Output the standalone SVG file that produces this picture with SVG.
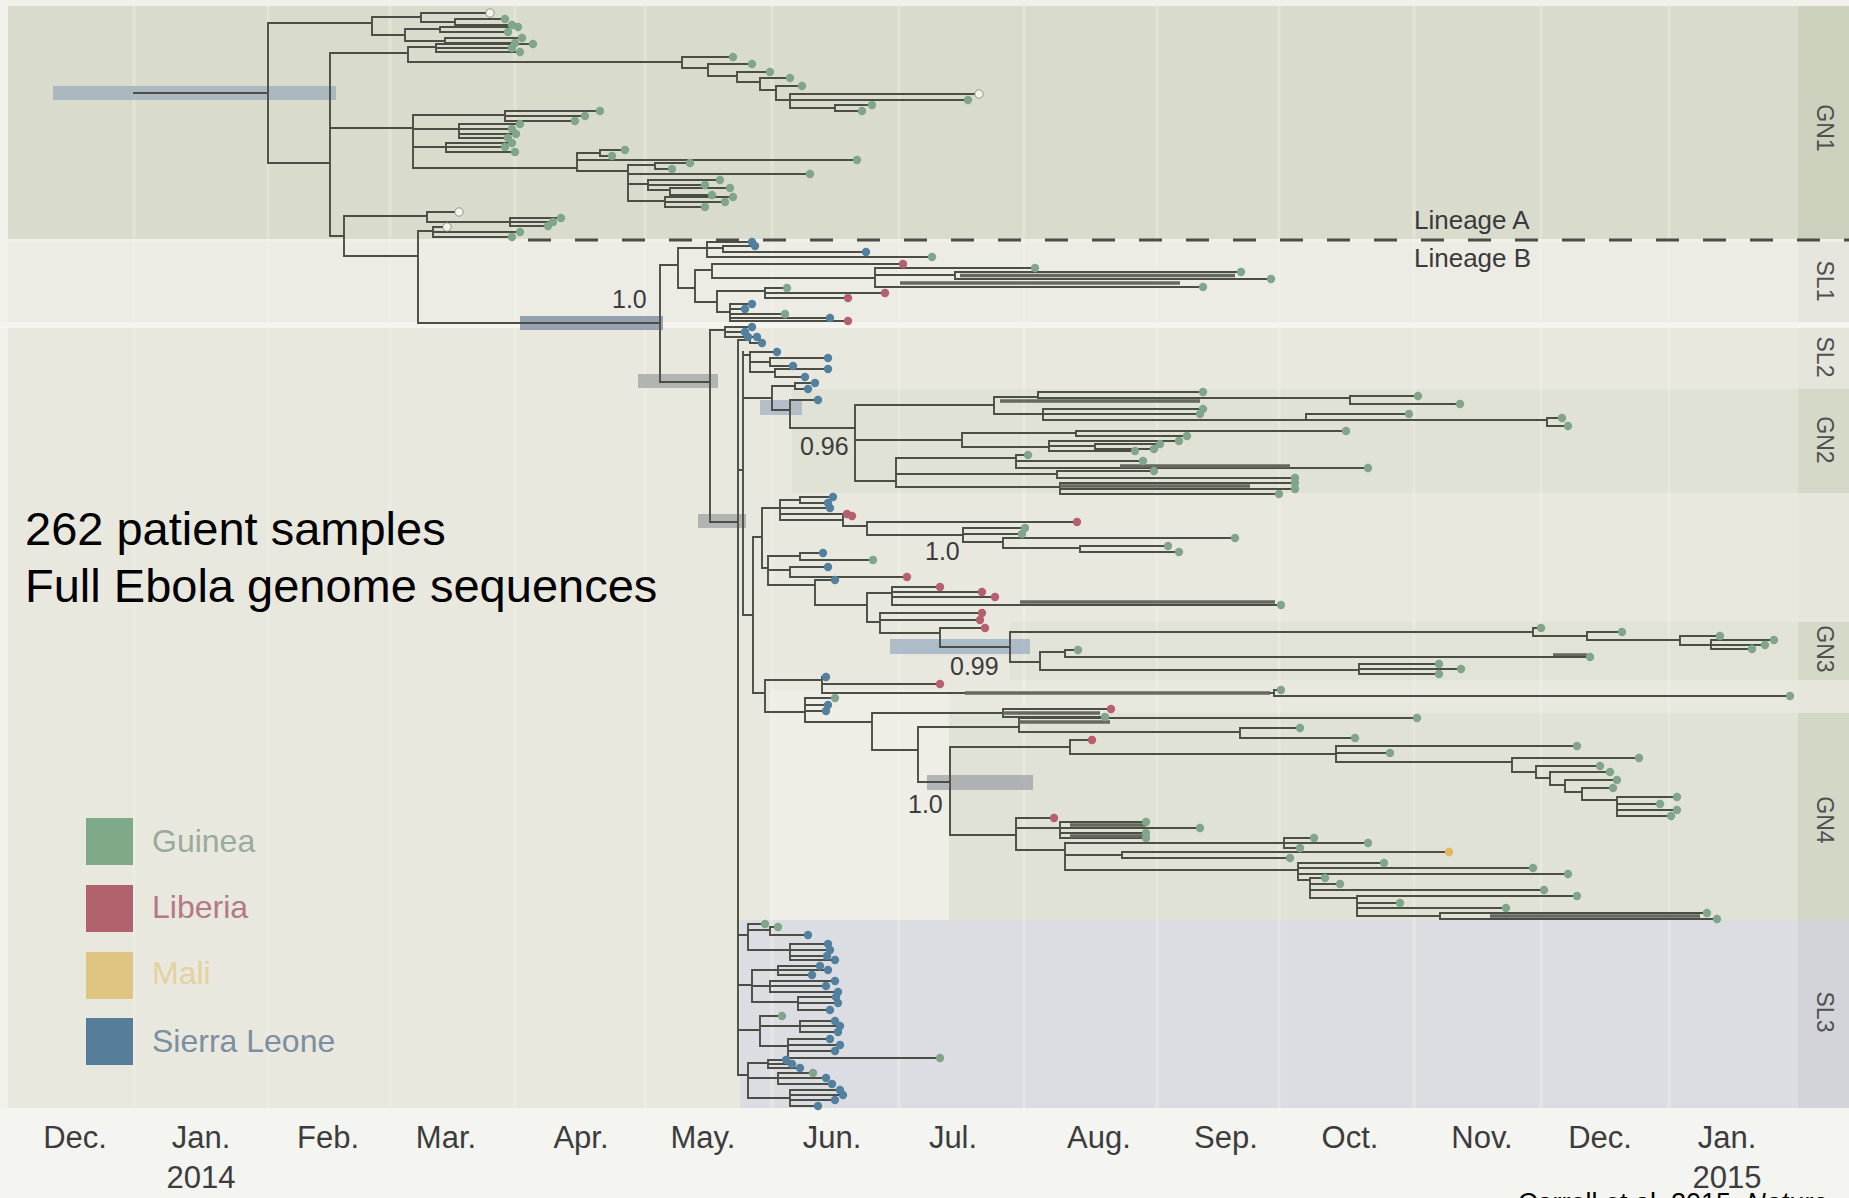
<svg xmlns="http://www.w3.org/2000/svg" width="1849" height="1198" viewBox="0 0 1849 1198">
<style>
.br{fill:none;stroke:#4b4e44;stroke-width:1.9;stroke-linecap:square}
.thk{fill:none;stroke:#666a5e;stroke-width:3.5}
circle{r:4.2px}
.g{fill:#80a58a}.l{fill:#b5606c}.s{fill:#52809f}.m{fill:#e2b85c}.w{fill:#f3f3ec;stroke:#7d7f74;stroke-width:.8}
.grid{stroke:#f6f5f0;stroke-width:3;opacity:.35}
.ax{font-family:"Liberation Sans",Arial,sans-serif;font-size:31px;fill:#3c3c3c;text-anchor:middle}
.cl{font-family:"Liberation Sans",Arial,sans-serif;font-size:23px;fill:#505050;text-anchor:middle;dominant-baseline:central}
.sup{font-family:"Liberation Sans",Arial,sans-serif;font-size:25px;fill:#3c3c3c}
.lg{font-family:"Liberation Sans",Arial,sans-serif;font-size:32px}
.big{font-family:"Liberation Sans",Arial,sans-serif;font-size:47px;fill:#000}
</style>
<g id="background">
<rect width="1849" height="1198" fill="#f1f0ea"/>
<rect x="8" y="6" width="1841" height="1102" fill="#e9e8df"/>
<rect x="8" y="6" width="1790" height="233" fill="#d9dccc"/>
<rect x="8" y="239" width="1841" height="3" fill="#f0efe8"/>
<rect x="8" y="242" width="1790" height="80" fill="#ecebe4"/>
<rect x="0" y="322" width="1849" height="6" fill="#f5f4ef"/>
<rect x="792" y="389" width="1006" height="104" fill="#dfe2d4"/>
<rect x="1010" y="622" width="788" height="58" fill="#e1e3d6"/>
<rect x="770" y="690" width="179" height="230" fill="#eeede6"/>
<rect x="949" y="713" width="849" height="207" fill="#dfe2d4"/>
<rect x="740" y="920" width="1058" height="188" fill="#dcdde2"/>
<rect x="1798" y="6" width="51" height="233" fill="#ccd1be"/>
<rect x="1798" y="242" width="51" height="80" fill="#e7e6de"/>
<rect x="1798" y="328" width="51" height="61" fill="#e5e5dc"/>
<rect x="1798" y="389" width="51" height="104" fill="#d5d9c8"/>
<rect x="1798" y="493" width="51" height="129" fill="#e6e6dd"/>
<rect x="1798" y="622" width="51" height="58" fill="#d5d9c8"/>
<rect x="1798" y="680" width="51" height="33" fill="#e6e6dd"/>
<rect x="1798" y="713" width="51" height="207" fill="#d3d7c5"/>
<rect x="1798" y="920" width="51" height="188" fill="#d2d4da"/>
<rect x="0" y="1108" width="1849" height="90" fill="#f4f4f1"/>
</g>
<g id="grid">
<path class="grid" d="M134 6V1108M268 6V1108M390 6V1108M515 6V1108M645 6V1108M772 6V1108M899 6V1108M1024 6V1108M1157 6V1108M1279 6V1108M1414 6V1108M1541 6V1108M1669 6V1108"/>
</g>
<g id="hpd-bars">
<rect x="53" y="86" width="283" height="14" fill="#a3b1bd" opacity=".85"/>
<rect x="520" y="316" width="143" height="14" fill="#8694a6" opacity=".85"/>
<rect x="638" y="374" width="80" height="14" fill="#a4a6a6" opacity=".8"/>
<rect x="698" y="514" width="48" height="14" fill="#a4a6a6" opacity=".8"/>
<rect x="760" y="400" width="42" height="15" fill="#a9b4c3" opacity=".8"/>
<rect x="890" y="639" width="140" height="15" fill="#9fafc3" opacity=".8"/>
<rect x="927" y="775" width="106" height="15" fill="#a3a6a9" opacity=".8"/>
</g>
<line x1="528" y1="240" x2="1849" y2="240" stroke="#4b4c45" stroke-width="3" stroke-dasharray="23 24"/>
<g id="connectors">
<path id="br-gn1" class="br" d="M134 93H268M268 23V163M268 23H372M372 17V35M372 17H421M421 13V22M421 13H490M421 22H455M455 19V25M455 19H505M455 25H512M372 35H405M405 29V41M405 29H440M440 27V32M440 27H518M440 32H508M405 41H445M445 38V43M445 38H522M445 43H515
M268 163H330M330 53V236M330 53H408M408 47V62M408 47H436M436 44V52M436 44H533M436 48H512M436 52H520M408 62H682M682 57V68M682 57H733M682 68H708M708 64V76M708 64H752M708 76H737M737 72V82M737 72H770M737 82H760M760 78V90M760 78H790M760 90H776M776 86V100M776 86H802M776 100H790M790 94V108M790 94H979M790 100H968M790 108H835M835 105V111M835 105H872M835 111H862
M330 128H413M413 115V168M413 115H505M505 111V121M505 111H600M505 116H585M505 121H575M413 129H459M459 124V138M459 124H520M459 129H512M459 134H516M459 138H508M413 147H446M446 143V152M446 143H512M446 147H505M446 152H515
M413 168H577M577 153V171M577 153H600M600 150V156M600 150H625M600 156H612M577 160H857M577 171H628M628 165V201M628 165H655M655 163V169M655 163H690M655 169H672M628 174H810M628 184H648M648 180V190M648 180H720M648 185H705M648 190H670M670 188V195M670 188H730M670 195H712M628 201H665M665 197V207M665 197H733M665 202H725M665 207H705
M330 236H344M344 216V256M344 216H427M427 212V222M427 212H459M427 222H510M510 218V226M510 218H561M510 222H553M510 226H548M344 256H418M418 231V323M418 231H433M433 227V237M433 227H447M433 232H520M433 237H512M418 323H660"/>
<path id="br-sl1" class="br" d="M660 265V382M660 265H678M678 248V288M678 248H707M707 242V257M707 242H752M707 248H723M723 246V252M723 246H755M723 252H866M707 257H932
M678 288H695M695 270V302M695 270H712M712 264V278M712 264H903M712 278H875M875 268V287M875 268H1035M875 275H955M955 272V279M955 272H1241M955 279H1271M875 287H1203
M695 302H717M717 291V312M717 291H765M765 288V298M765 288H787M765 293H885M765 298H848M717 312H730M730 304V321M730 304H752M730 309H745M730 314H785M730 318H830M730 321H848"/>
<path class="thk" d="M960 275.5H1235M900 283H1180"/>
<path id="br-sl2" class="br" d="M660 382H710M710 330V522M710 330H725M725 327V337M725 327H752M725 332H745M725 337H748M710 522H738M738 340V1075M738 340H750M750 337V343M750 337H757M750 343H762M738 470H743M743 352V615
M743 355H750M750 352V372M750 352H777M750 362H770M770 358V366M770 358H828M770 366H793M750 372H775M775 369V377M775 369H828M775 377H805M743 398H772M772 386V410M772 386H795M795 383V389M795 383H815M795 389H808M772 410H790M790 400V428M790 400H818M790 428H855"/>
<path id="br-gn2" class="br" d="M855 405V481M855 405H994M994 397V414M994 397H1038M1038 392V398M1038 392H1203M1038 398H1350M1350 396V404M1350 396H1418M1350 404H1460M994 414H1043M1043 409V420M1043 409H1203M1043 414H1200M1043 420H1306M1306 414V420M1306 414H1409M1306 420H1547M1547 418V426M1547 418H1562M1547 426H1568
M855 440H962M962 433V447M962 433H1076M1076 431V436M1076 431H1346M1076 436H1187M962 447H1049M1049 441V451M1049 441H1179M1049 446H1095M1095 444V449M1095 444H1160M1095 449H1154M1049 451H1135
M855 481H896M896 458V487M896 458H1016M1016 455V468M1016 455H1028M1016 461H1143M1016 468H1368M896 474H1057M1057 471V478M1057 471H1154M1057 478H1295M896 487H1060M1060 483V494M1060 483H1295M1060 489H1295M1060 494H1279"/>
<path class="thk" d="M1060 486H1250M1000 401H1200M1120 466H1290"/>
<path id="br-mid" class="br" d="M743 615H753M753 537V693M753 537H762M762 508V568M762 508H780M780 500V520M780 500H800M800 497V503M800 497H833M800 503H828M780 508H830M780 514H847M780 520H843M843 516V526M843 516H852M843 526H867M867 522V535M867 522H1077M867 535H963M963 528V542M963 528H1025M963 534H1022M963 542H1003M1003 538V548M1003 538H1235M1003 548H1080M1080 546V552M1080 546H1168M1080 552H1179
M762 568H768M768 556V585M768 556H800M800 553V560M800 553H823M800 560H873M768 570H790M790 567V577M790 567H828M790 577H907M768 585H815M815 580V605M815 580H835M815 605H867M867 593V622M867 593H892M892 587V605M892 587H940M892 592H982M892 597H995M892 605H1281M867 622H880M880 613V633M880 613H982M880 620H980M880 633H940M940 628V647M940 628H985M940 647H1010
M753 693H765M765 680V712M765 680H822M822 677V693M822 677H826M822 684H940M822 693H1274M1274 690V696M1274 690H1281M1274 696H1790M765 712H805M805 698V722M805 698H835M805 705H828M805 711H826M805 722H872M872 713V750M872 713H1003M1003 709V717M1003 709H1111M1003 717H1105M872 750H918M918 727V782M918 727H1019M1019 718V732M1019 718H1417M1019 732H1240M1240 728V738M1240 728H1300M1240 738H1355M918 782H950"/>
<path class="thk" d="M1020 602H1275M965 693H1270M1003 713H1100M1019 722H1110M1553 655H1587"/>
<path id="br-gn3" class="br" d="M1010 632V662M1010 632H1533M1533 628V636M1533 628H1541M1533 636H1587M1587 632V640M1587 632H1622M1587 640H1680M1680 636V645M1680 636H1720M1680 645H1711M1711 640V649M1711 640H1774M1711 645H1765M1711 649H1752M1010 662H1040M1040 652V670M1040 652H1065M1065 650V657M1065 650H1078M1065 657H1590M1040 670H1359M1359 664V674M1359 664H1439M1359 669H1461M1359 674H1439"/>
<path id="br-gn4" class="br" d="M950 747V835M950 747H1070M1070 740V754M1070 740H1092M1070 754H1336M1336 746V762M1336 746H1577M1336 753H1390M1336 762H1512M1512 758V772M1512 758H1639M1512 772H1536M1536 766V778M1536 766H1600M1536 778H1550M1550 772V785M1550 772H1610M1550 785H1565M1565 780V792M1565 780H1617M1565 792H1582M1582 788V800M1582 788H1613M1582 800H1617M1617 797V816M1617 797H1677M1617 804H1660M1617 810H1677M1617 816H1671
M950 835H1016M1016 818V850M1016 818H1054M1016 828H1060M1060 822V838M1060 822H1146M1060 828H1200M1060 833H1146M1060 838H1146M1016 850H1065M1065 843V870M1065 843H1284M1284 838V848M1284 838H1314M1284 843H1368M1284 848H1300M1065 855H1122M1122 852V858M1122 852H1449M1122 858H1290M1065 870H1298M1298 863V880M1298 863H1384M1298 868H1533M1298 874H1568M1298 880H1310M1310 878V898M1310 878H1325M1310 884H1340M1310 890H1544M1310 898H1357M1357 896V916M1357 896H1577M1357 903H1400M1357 908H1506M1357 916H1440M1440 913V919M1440 913H1707M1440 919H1717"/>
<path class="thk" d="M1490 916H1700M1070 825H1146M1070 836H1146"/>
<path id="br-sl3" class="br" d="M738 935H748M748 924V950M748 924H765M748 930H770M770 927V935M770 927H778M770 935H808M748 950H790M790 944V960M790 944H828M790 950H830M790 956H827M790 960H835
M738 985H752M752 970V1002M752 970H778M778 966V975M778 966H820M778 970H828M778 975H812M752 986H770M770 981V992M770 981H835M770 986H826M770 992H838M752 1002H798M798 997V1010M798 997H836M798 1003H838M798 1010H830
M738 1030H760M760 1016V1046M760 1016H782M760 1026H800M800 1021V1032M800 1021H835M800 1026H840M800 1032H838M760 1046H788M788 1039V1058M788 1039H830M788 1045H840M788 1051H835M788 1058H940
M738 1075H748M748 1063V1098M748 1063H768M768 1060V1068M768 1060H786M768 1064H792M768 1068H800M748 1078H778M778 1073V1084M778 1073H813M778 1078H826M778 1084H832M748 1098H790M790 1090V1106M790 1090H840M790 1095H843M790 1100H835M790 1106H818"/>
</g>
<g id="clade-GN1">
<circle class="w" cx="490" cy="13" r="3.6"/><circle class="g" cx="505" cy="19" r="3.6"/><circle class="g" cx="512" cy="25" r="3.6"/><circle class="g" cx="518" cy="27" r="3.6"/><circle class="g" cx="508" cy="32" r="3.6"/><circle class="g" cx="522" cy="38" r="3.6"/><circle class="g" cx="515" cy="43" r="3.6"/>
<circle class="g" cx="533" cy="44" r="3.6"/><circle class="g" cx="512" cy="48" r="3.6"/><circle class="g" cx="520" cy="52" r="3.6"/>
<circle class="g" cx="733" cy="57" r="3.6"/><circle class="g" cx="752" cy="64" r="3.6"/><circle class="g" cx="770" cy="72" r="3.6"/><circle class="g" cx="790" cy="78" r="3.6"/><circle class="g" cx="802" cy="86" r="3.6"/><circle class="w" cx="979" cy="94" r="3.6"/><circle class="g" cx="968" cy="100" r="3.6"/><circle class="g" cx="872" cy="105" r="3.6"/><circle class="g" cx="862" cy="111" r="3.6"/>
<circle class="g" cx="600" cy="111" r="3.6"/><circle class="g" cx="585" cy="116" r="3.6"/><circle class="g" cx="575" cy="121" r="3.6"/><circle class="g" cx="520" cy="124" r="3.6"/><circle class="g" cx="512" cy="129" r="3.6"/><circle class="g" cx="516" cy="134" r="3.6"/><circle class="g" cx="508" cy="138" r="3.6"/><circle class="g" cx="512" cy="143" r="3.6"/><circle class="g" cx="505" cy="147" r="3.6"/><circle class="g" cx="515" cy="152" r="3.6"/>
<circle class="g" cx="625" cy="150" r="3.6"/><circle class="g" cx="612" cy="156" r="3.6"/><circle class="g" cx="857" cy="160" r="3.6"/><circle class="g" cx="690" cy="163" r="3.6"/><circle class="g" cx="672" cy="169" r="3.6"/><circle class="g" cx="810" cy="174" r="3.6"/><circle class="g" cx="720" cy="180" r="3.6"/><circle class="g" cx="705" cy="185" r="3.6"/><circle class="g" cx="730" cy="188" r="3.6"/><circle class="g" cx="712" cy="195" r="3.6"/><circle class="g" cx="733" cy="197" r="3.6"/><circle class="g" cx="725" cy="202" r="3.6"/><circle class="g" cx="705" cy="207" r="3.6"/>
<circle class="w" cx="459" cy="212" r="3.6"/><circle class="g" cx="561" cy="218" r="3.6"/><circle class="g" cx="553" cy="222" r="3.6"/><circle class="g" cx="548" cy="226" r="3.6"/><circle class="w" cx="447" cy="227" r="3.6"/><circle class="g" cx="520" cy="232" r="3.6"/><circle class="g" cx="512" cy="237" r="3.6"/>
</g>
<g id="clade-SL1">
<circle class="s" cx="752" cy="242" r="3.6"/><circle class="s" cx="755" cy="246" r="3.6"/><circle class="s" cx="866" cy="252" r="3.6"/><circle class="g" cx="932" cy="257" r="3.6"/>
<circle class="l" cx="903" cy="264" r="3.6"/><circle class="g" cx="1035" cy="268" r="3.6"/><circle class="g" cx="1241" cy="272" r="3.6"/><circle class="g" cx="1271" cy="279" r="3.6"/><circle class="g" cx="1203" cy="287" r="3.6"/>
<circle class="g" cx="787" cy="288" r="3.6"/><circle class="l" cx="885" cy="293" r="3.6"/><circle class="l" cx="848" cy="298" r="3.6"/><circle class="s" cx="752" cy="304" r="3.6"/><circle class="s" cx="745" cy="309" r="3.6"/><circle class="g" cx="785" cy="314" r="3.6"/><circle class="s" cx="830" cy="318" r="3.6"/><circle class="l" cx="848" cy="321" r="3.6"/>
</g>
<g id="clade-SL2">
<circle class="s" cx="752" cy="327" r="3.6"/><circle class="s" cx="745" cy="332" r="3.6"/><circle class="s" cx="748" cy="337" r="3.6"/><circle class="s" cx="757" cy="337" r="3.6"/><circle class="s" cx="762" cy="343" r="3.6"/>
<circle class="s" cx="777" cy="352" r="3.6"/><circle class="s" cx="828" cy="358" r="3.6"/><circle class="s" cx="793" cy="366" r="3.6"/><circle class="s" cx="828" cy="369" r="3.6"/><circle class="s" cx="805" cy="377" r="3.6"/><circle class="s" cx="815" cy="383" r="3.6"/><circle class="s" cx="808" cy="389" r="3.6"/><circle class="s" cx="818" cy="400" r="3.6"/>
</g>
<g id="clade-GN2">
<circle class="g" cx="1203" cy="392" r="3.6"/><circle class="g" cx="1418" cy="396" r="3.6"/><circle class="g" cx="1460" cy="404" r="3.6"/><circle class="g" cx="1203" cy="409" r="3.6"/><circle class="g" cx="1200" cy="414" r="3.6"/><circle class="g" cx="1409" cy="414" r="3.6"/><circle class="g" cx="1562" cy="418" r="3.6"/><circle class="g" cx="1568" cy="426" r="3.6"/>
<circle class="g" cx="1346" cy="431" r="3.6"/><circle class="g" cx="1187" cy="436" r="3.6"/><circle class="g" cx="1179" cy="441" r="3.6"/><circle class="g" cx="1160" cy="444" r="3.6"/><circle class="g" cx="1154" cy="449" r="3.6"/><circle class="g" cx="1135" cy="451" r="3.6"/>
<circle class="g" cx="1028" cy="455" r="3.6"/><circle class="g" cx="1143" cy="461" r="3.6"/><circle class="g" cx="1368" cy="468" r="3.6"/><circle class="g" cx="1154" cy="471" r="3.6"/><circle class="g" cx="1295" cy="478" r="3.6"/><circle class="g" cx="1295" cy="483" r="3.6"/><circle class="g" cx="1295" cy="489" r="3.6"/><circle class="g" cx="1279" cy="494" r="3.6"/>
</g>
<g id="clade-mid">
<circle class="s" cx="833" cy="497" r="3.6"/><circle class="s" cx="828" cy="503" r="3.6"/><circle class="s" cx="830" cy="508" r="3.6"/><circle class="l" cx="847" cy="514" r="3.6"/><circle class="l" cx="852" cy="516" r="3.6"/><circle class="l" cx="1077" cy="522" r="3.6"/><circle class="g" cx="1025" cy="528" r="3.6"/><circle class="g" cx="1022" cy="534" r="3.6"/><circle class="g" cx="1235" cy="538" r="3.6"/><circle class="g" cx="1168" cy="546" r="3.6"/><circle class="g" cx="1179" cy="552" r="3.6"/>
<circle class="s" cx="823" cy="553" r="3.6"/><circle class="g" cx="873" cy="560" r="3.6"/><circle class="s" cx="828" cy="567" r="3.6"/><circle class="l" cx="907" cy="577" r="3.6"/><circle class="s" cx="835" cy="580" r="3.6"/>
<circle class="l" cx="940" cy="587" r="3.6"/><circle class="l" cx="982" cy="592" r="3.6"/><circle class="l" cx="995" cy="597" r="3.6"/><circle class="g" cx="1281" cy="605" r="3.6"/><circle class="l" cx="982" cy="613" r="3.6"/><circle class="l" cx="980" cy="620" r="3.6"/><circle class="l" cx="985" cy="628" r="3.6"/>
<circle class="s" cx="826" cy="677" r="3.6"/><circle class="l" cx="940" cy="684" r="3.6"/><circle class="g" cx="1281" cy="690" r="3.6"/><circle class="g" cx="1790" cy="696" r="3.6"/>
<circle class="g" cx="835" cy="698" r="3.6"/><circle class="s" cx="828" cy="705" r="3.6"/><circle class="s" cx="826" cy="711" r="3.6"/><circle class="l" cx="1111" cy="709" r="3.6"/><circle class="g" cx="1105" cy="717" r="3.6"/>
<circle class="g" cx="1417" cy="718" r="3.6"/><circle class="g" cx="1300" cy="728" r="3.6"/><circle class="g" cx="1355" cy="738" r="3.6"/>
</g>
<g id="clade-GN3">
<circle class="g" cx="1541" cy="628" r="3.6"/><circle class="g" cx="1622" cy="632" r="3.6"/><circle class="g" cx="1720" cy="636" r="3.6"/><circle class="g" cx="1774" cy="640" r="3.6"/><circle class="g" cx="1765" cy="645" r="3.6"/><circle class="g" cx="1752" cy="649" r="3.6"/><circle class="g" cx="1078" cy="650" r="3.6"/><circle class="g" cx="1590" cy="657" r="3.6"/><circle class="g" cx="1439" cy="664" r="3.6"/><circle class="g" cx="1461" cy="669" r="3.6"/><circle class="g" cx="1439" cy="674" r="3.6"/>
</g>
<g id="clade-GN4">
<circle class="l" cx="1092" cy="740" r="3.6"/><circle class="g" cx="1577" cy="746" r="3.6"/><circle class="g" cx="1390" cy="753" r="3.6"/><circle class="g" cx="1639" cy="758" r="3.6"/><circle class="g" cx="1600" cy="766" r="3.6"/><circle class="g" cx="1610" cy="772" r="3.6"/><circle class="g" cx="1617" cy="780" r="3.6"/><circle class="g" cx="1613" cy="788" r="3.6"/><circle class="g" cx="1677" cy="797" r="3.6"/><circle class="g" cx="1660" cy="804" r="3.6"/><circle class="g" cx="1677" cy="810" r="3.6"/><circle class="g" cx="1671" cy="816" r="3.6"/>
<circle class="l" cx="1054" cy="818" r="3.6"/><circle class="g" cx="1146" cy="822" r="3.6"/><circle class="g" cx="1200" cy="828" r="3.6"/><circle class="g" cx="1146" cy="833" r="3.6"/><circle class="g" cx="1146" cy="838" r="3.6"/><circle class="g" cx="1314" cy="838" r="3.6"/><circle class="g" cx="1368" cy="843" r="3.6"/><circle class="g" cx="1300" cy="848" r="3.6"/><circle class="m" cx="1449" cy="852" r="3.6"/><circle class="g" cx="1290" cy="858" r="3.6"/>
<circle class="g" cx="1384" cy="863" r="3.6"/><circle class="g" cx="1533" cy="868" r="3.6"/><circle class="g" cx="1568" cy="874" r="3.6"/><circle class="g" cx="1325" cy="878" r="3.6"/><circle class="g" cx="1340" cy="884" r="3.6"/><circle class="g" cx="1544" cy="890" r="3.6"/><circle class="g" cx="1577" cy="896" r="3.6"/><circle class="g" cx="1400" cy="903" r="3.6"/><circle class="g" cx="1506" cy="908" r="3.6"/><circle class="g" cx="1707" cy="913" r="3.6"/><circle class="g" cx="1717" cy="919" r="3.6"/>
</g>
<g id="clade-SL3">
<circle class="g" cx="765" cy="924" r="3.6"/><circle class="g" cx="778" cy="927" r="3.6"/><circle class="s" cx="808" cy="935" r="3.6"/><circle class="s" cx="828" cy="944" r="3.6"/><circle class="s" cx="830" cy="950" r="3.6"/><circle class="s" cx="827" cy="956" r="3.6"/><circle class="s" cx="835" cy="960" r="3.6"/>
<circle class="s" cx="820" cy="966" r="3.6"/><circle class="s" cx="828" cy="970" r="3.6"/><circle class="s" cx="812" cy="975" r="3.6"/><circle class="s" cx="835" cy="981" r="3.6"/><circle class="s" cx="826" cy="986" r="3.6"/><circle class="s" cx="838" cy="992" r="3.6"/><circle class="s" cx="836" cy="997" r="3.6"/><circle class="s" cx="838" cy="1003" r="3.6"/><circle class="s" cx="830" cy="1010" r="3.6"/>
<circle class="g" cx="782" cy="1016" r="3.6"/><circle class="s" cx="835" cy="1021" r="3.6"/><circle class="s" cx="840" cy="1026" r="3.6"/><circle class="s" cx="838" cy="1032" r="3.6"/><circle class="s" cx="830" cy="1039" r="3.6"/><circle class="s" cx="840" cy="1045" r="3.6"/><circle class="s" cx="835" cy="1051" r="3.6"/><circle class="g" cx="940" cy="1058" r="3.6"/>
<circle class="s" cx="786" cy="1060" r="3.6"/><circle class="s" cx="792" cy="1064" r="3.6"/><circle class="s" cx="800" cy="1068" r="3.6"/><circle class="g" cx="813" cy="1073" r="3.6"/><circle class="s" cx="826" cy="1078" r="3.6"/><circle class="s" cx="832" cy="1084" r="3.6"/><circle class="s" cx="840" cy="1090" r="3.6"/><circle class="s" cx="843" cy="1095" r="3.6"/><circle class="s" cx="835" cy="1100" r="3.6"/><circle class="s" cx="818" cy="1106" r="3.6"/>
</g>
<g id="support-labels">
<text class="sup" x="612" y="308">1.0</text>
<text class="sup" x="800" y="455">0.96</text>
<text class="sup" x="925" y="560">1.0</text>
<text class="sup" x="950" y="675">0.99</text>
<text class="sup" x="908" y="813">1.0</text>
</g>
<g id="lineage-labels" font-family="Liberation Sans, Arial, sans-serif" font-size="26" fill="#3a3a3a">
<text x="1414" y="229">Lineage A</text>
<text x="1414" y="267">Lineage B</text>
</g>
<g id="clade-labels">
<text class="cl" transform="translate(1825 128) rotate(90)">GN1</text>
<text class="cl" transform="translate(1825 281) rotate(90)">SL1</text>
<text class="cl" transform="translate(1825 357) rotate(90)">SL2</text>
<text class="cl" transform="translate(1825 440) rotate(90)">GN2</text>
<text class="cl" transform="translate(1825 649) rotate(90)">GN3</text>
<text class="cl" transform="translate(1825 820) rotate(90)">GN4</text>
<text class="cl" transform="translate(1825 1012) rotate(90)">SL3</text>
</g>
<g id="legend">
<g id="legend-guinea"><rect x="86" y="818" width="47" height="47" fill="#80a98a"/><text class="lg" x="152" y="852" fill="#9aab9c">Guinea</text></g>
<g id="legend-liberia"><rect x="86" y="885" width="47" height="47" fill="#b2626c"/><text class="lg" x="152" y="918" fill="#b27a83">Liberia</text></g>
<g id="legend-mali"><rect x="86" y="952" width="47" height="47" fill="#e0c481"/><text class="lg" x="152" y="984" fill="#e4d29e">Mali</text></g>
<g id="legend-sierra-leone"><rect x="86" y="1018" width="47" height="47" fill="#567d9a"/><text class="lg" x="152" y="1052" fill="#7b8fa0">Sierra Leone</text></g>
</g>
<g id="axis">
<text class="ax" x="75" y="1148">Dec.</text>
<text class="ax" x="201" y="1148">Jan.</text>
<text class="ax" x="201" y="1188">2014</text>
<text class="ax" x="328" y="1148">Feb.</text>
<text class="ax" x="446" y="1148">Mar.</text>
<text class="ax" x="581" y="1148">Apr.</text>
<text class="ax" x="703" y="1148">May.</text>
<text class="ax" x="832" y="1148">Jun.</text>
<text class="ax" x="953" y="1148">Jul.</text>
<text class="ax" x="1099" y="1148">Aug.</text>
<text class="ax" x="1226" y="1148">Sep.</text>
<text class="ax" x="1350" y="1148">Oct.</text>
<text class="ax" x="1482" y="1148">Nov.</text>
<text class="ax" x="1600" y="1148">Dec.</text>
<text class="ax" x="1727" y="1148">Jan.</text>
<text class="ax" x="1727" y="1188">2015</text>
</g>
<g id="caption">
<text class="big" x="25" y="545">262 patient samples</text>
<text class="big" x="25" y="602">Full Ebola genome sequences</text>
<text x="1518" y="1212" font-family="Liberation Sans, Arial, sans-serif" font-size="27" fill="#000">Carroll et al. 2015, <tspan font-style="italic">Nature</tspan></text>
</g>
</svg>
